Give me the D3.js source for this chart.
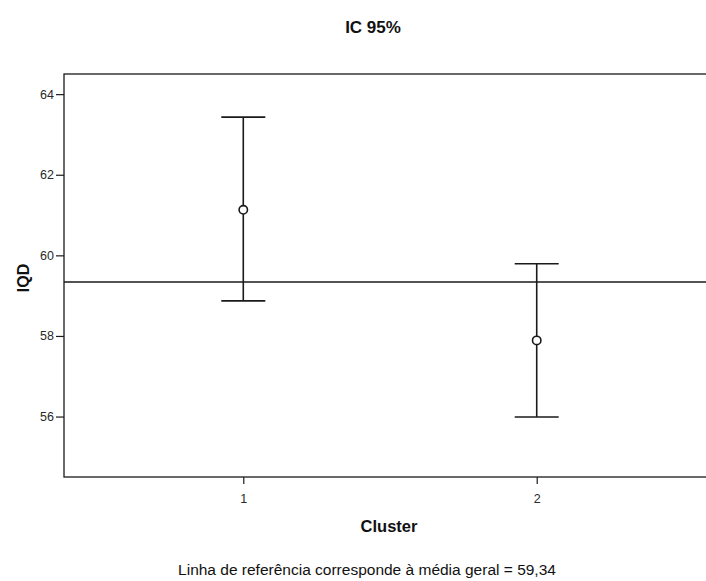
<!DOCTYPE html>
<html><head><meta charset="utf-8">
<script src="https://cdn.jsdelivr.net/npm/d3@7"></script>
<style>body{margin:0;background:#fff;} svg{display:block;font-family:"Liberation Sans",Arial,sans-serif;}</style>
</head><body>
<svg id="c" width="706" height="581"></svg>
<script>
const clusters = [1, 2];
const means = [61.13, 57.89];
const lower = [58.87, 55.99];
const upper = [63.43, 59.79];
const yTicks = [56, 58, 60, 62, 64];
const refMean = 59.34;
const title = "IC 95%";
const xLabel = "Cluster";
const yLabel = "IQD";
const footnote = "Linha de referência corresponde à média geral = 59,34";

const svg = d3.select("#c");
const L = 64, T = 74, B = 477, R = 716;
const x = d3.scaleLinear().domain([0.389, 2.611]).range([L, R]);
const y = d3.scaleLinear().domain([54.5, 64.5]).range([B, T]);
const ink = "#1a1a1a";

// frame
svg.append("rect").attr("x", L).attr("y", T).attr("width", R - L).attr("height", B - T)
  .attr("fill", "none").attr("stroke", ink).attr("stroke-width", 1.3);

// y axis
const ya = svg.append("g").attr("transform", `translate(${L},0)`)
  .call(d3.axisLeft(y).tickValues(yTicks).tickSize(8).tickPadding(2).tickFormat(d3.format("d")));
ya.select(".domain").remove();
ya.selectAll("line").attr("stroke", ink).attr("stroke-width", 1.2);
ya.selectAll("text").attr("font-size", 12.5).attr("fill", "#2a2a2a").attr("font-family", "Liberation Sans, Arial, sans-serif");

// x axis
const xa = svg.append("g").attr("transform", `translate(0,${B})`)
  .call(d3.axisBottom(x).tickValues(clusters).tickSize(7).tickPadding(10).tickFormat(d3.format("d")));
xa.select(".domain").remove();
xa.selectAll("line").attr("stroke", ink).attr("stroke-width", 1.2);
xa.selectAll("text").attr("font-size", 12.5).attr("fill", "#2a2a2a").attr("font-family", "Liberation Sans, Arial, sans-serif");

// reference line
svg.append("line").attr("x1", L).attr("x2", R).attr("y1", y(refMean)).attr("y2", y(refMean))
  .attr("stroke", ink).attr("stroke-width", 1.5);

// error bars
const data = clusters.map((c, i) => ({c, m: means[i], lo: lower[i], hi: upper[i]}));
const capW = 22;
const g = svg.append("g").selectAll("g").data(data).join("g");
g.append("line").attr("x1", d => x(d.c)).attr("x2", d => x(d.c))
  .attr("y1", d => y(d.hi)).attr("y2", d => y(d.lo)).attr("stroke", ink).attr("stroke-width", 1.6);
g.append("line").attr("x1", d => x(d.c) - capW).attr("x2", d => x(d.c) + capW)
  .attr("y1", d => y(d.hi)).attr("y2", d => y(d.hi)).attr("stroke", ink).attr("stroke-width", 1.6);
g.append("line").attr("x1", d => x(d.c) - capW).attr("x2", d => x(d.c) + capW)
  .attr("y1", d => y(d.lo)).attr("y2", d => y(d.lo)).attr("stroke", ink).attr("stroke-width", 1.6);
g.append("circle").attr("cx", d => x(d.c)).attr("cy", d => y(d.m)).attr("r", 4.2)
  .attr("fill", "#fff").attr("stroke", ink).attr("stroke-width", 1.6);

// texts
svg.append("text").attr("x", 373).attr("y", 33).attr("text-anchor", "middle")
  .attr("font-size", 17).attr("font-weight", "bold").attr("fill", "#111").text(title);
svg.append("text").attr("x", 389).attr("y", 532).attr("text-anchor", "middle")
  .attr("font-size", 16.5).attr("font-weight", "bold").attr("fill", "#111").text(xLabel);
svg.append("text").attr("transform", "translate(29,278) rotate(-90)").attr("text-anchor", "middle")
  .attr("font-size", 16).attr("font-weight", "bold").attr("fill", "#111").text(yLabel);
svg.append("text").attr("x", 367).attr("y", 575).attr("text-anchor", "middle")
  .attr("font-size", 15.5).attr("fill", "#111").text(footnote);
</script>
</body></html>
